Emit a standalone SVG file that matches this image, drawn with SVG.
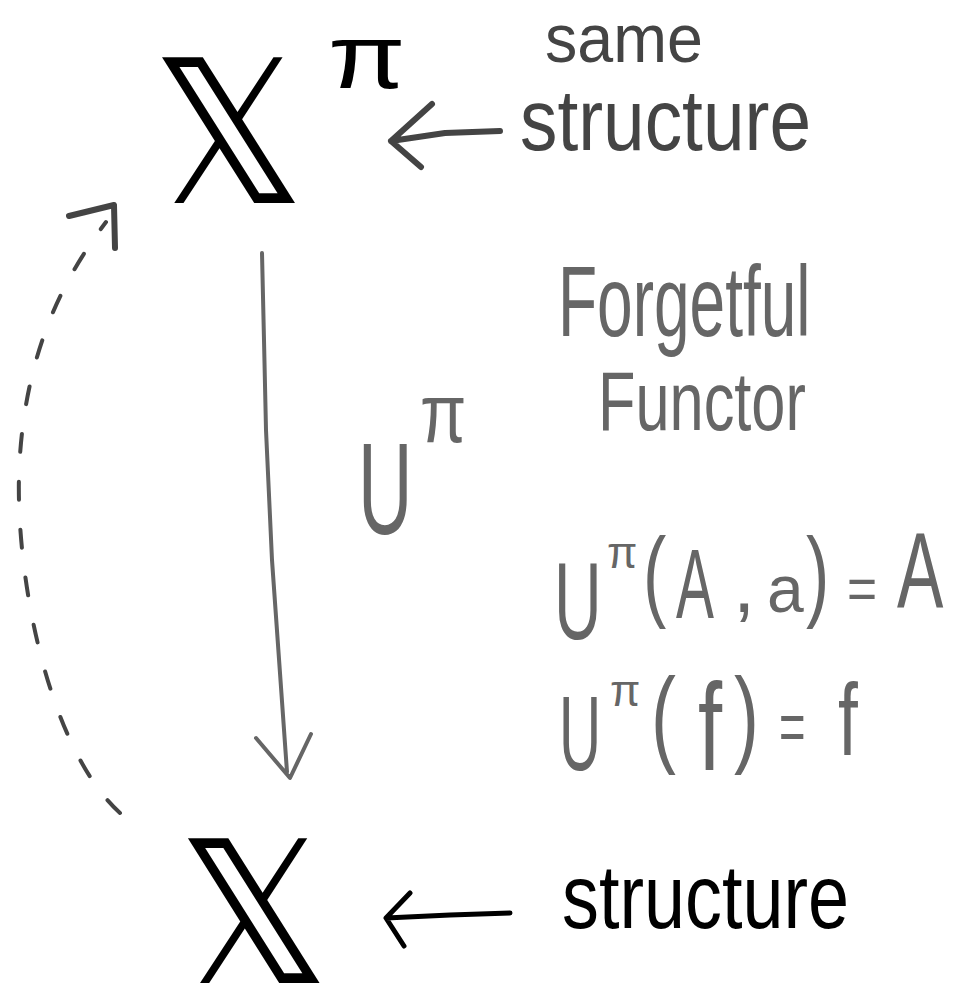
<svg xmlns="http://www.w3.org/2000/svg" width="953" height="985" viewBox="0 0 953 985">
<style>
text{font-family:"Liberation Sans","DejaVu Sans",sans-serif;}
.blk{fill:#000;}
.dk{fill:#444;}
.gr{fill:#666;}
.sym{font-family:"DejaVu Sans","Noto Sans",sans-serif;}
.ln{fill:none;stroke-linecap:round;stroke-linejoin:round;}
</style>
<rect width="953" height="985" fill="#fff"/>
<g id="node-top">
<text class="blk sym" transform="translate(152,203) scale(0.95,1)" font-size="200">𝕏</text>
<text class="blk" transform="translate(328,88) scale(1.25,1)" font-size="90">π</text>
</g>
<g id="label-same-structure">
<text class="dk" transform="translate(545,62) scale(0.95,1)" font-size="68">same</text>
<text class="dk" transform="translate(520,150) scale(0.86,1)" font-size="87">structure</text>
</g>
<g id="node-bottom">
<text class="blk sym" transform="translate(178,983) scale(0.95,1)" font-size="198">𝕏</text>
</g>
<g id="label-structure">
<text class="blk" transform="translate(562,928) scale(0.82,1)" font-size="90">structure</text>
</g>
<g id="label-functor">
<text class="gr" transform="translate(358,534) scale(0.58,1)" font-size="130">U</text>
<text class="gr" transform="translate(420,442) scale(0.8,1)" font-size="84">π</text>
<text class="gr" transform="translate(558,336) scale(0.64,1)" font-size="100">Forgetful</text>
<text class="gr" transform="translate(598,430) scale(0.73,1)" font-size="84">Functor</text>
</g>
<g id="equation-1">
<text class="gr" transform="translate(554,639) scale(0.6,1)" font-size="110">U</text>
<text class="gr" x="607" y="568" font-size="44">π</text>
<text class="gr" transform="translate(643,608) scale(0.7,1)" font-size="100">(</text>
<text class="gr" transform="translate(676,618) scale(0.58,1)" font-size="98">A</text>
<text class="gr" x="733" y="612" font-size="80">,</text>
<text class="gr" transform="translate(767,612) scale(1.0,1)" font-size="66">a</text>
<text class="gr" transform="translate(806,608) scale(0.7,1)" font-size="100">)</text>
<text class="gr" transform="translate(847,609) scale(0.86,1)" font-size="60">=</text>
<text class="gr" transform="translate(897,608) scale(0.65,1)" font-size="107">A</text>
</g>
<g id="equation-2">
<text class="gr" transform="translate(559,770) scale(0.55,1)" font-size="106">U</text>
<text class="gr" x="610" y="706" font-size="44">π</text>
<text class="gr" transform="translate(651,753) scale(0.7,1)" font-size="107">(</text>
<text class="gr" transform="translate(698,770) scale(0.7,1)" font-size="124">f</text>
<text class="gr" transform="translate(734,753) scale(0.7,1)" font-size="107">)</text>
<text class="gr" transform="translate(779,751) scale(0.65,1)" font-size="70">=</text>
<text class="gr" transform="translate(838,755) scale(0.7,1)" font-size="102">f</text>
</g>
<g id="connectors">
<path class="ln" d="M500,131 L445,133 L391,141 M432,104 L391,141 L421,167" stroke="#444" stroke-width="6"/>
<path class="ln" d="M510,913 L450,915 L386,918 M410,893 L386,918 L404,946" stroke="#000" stroke-width="5"/>
<path class="ln" d="M262,253 L264,340 L266,430 L272,560 L287,772 M256,738 L290,778 L311,734" stroke="#666" stroke-width="4"/>
<path class="ln" d="M120,813 C45,745 12,560 20,455 C28,340 70,270 106,222" stroke="#444" stroke-width="4" stroke-dasharray="18 30"/>
<path class="ln" d="M69,216 L114,205 L115,248" stroke="#444" stroke-width="6"/>
</g>
</svg>
